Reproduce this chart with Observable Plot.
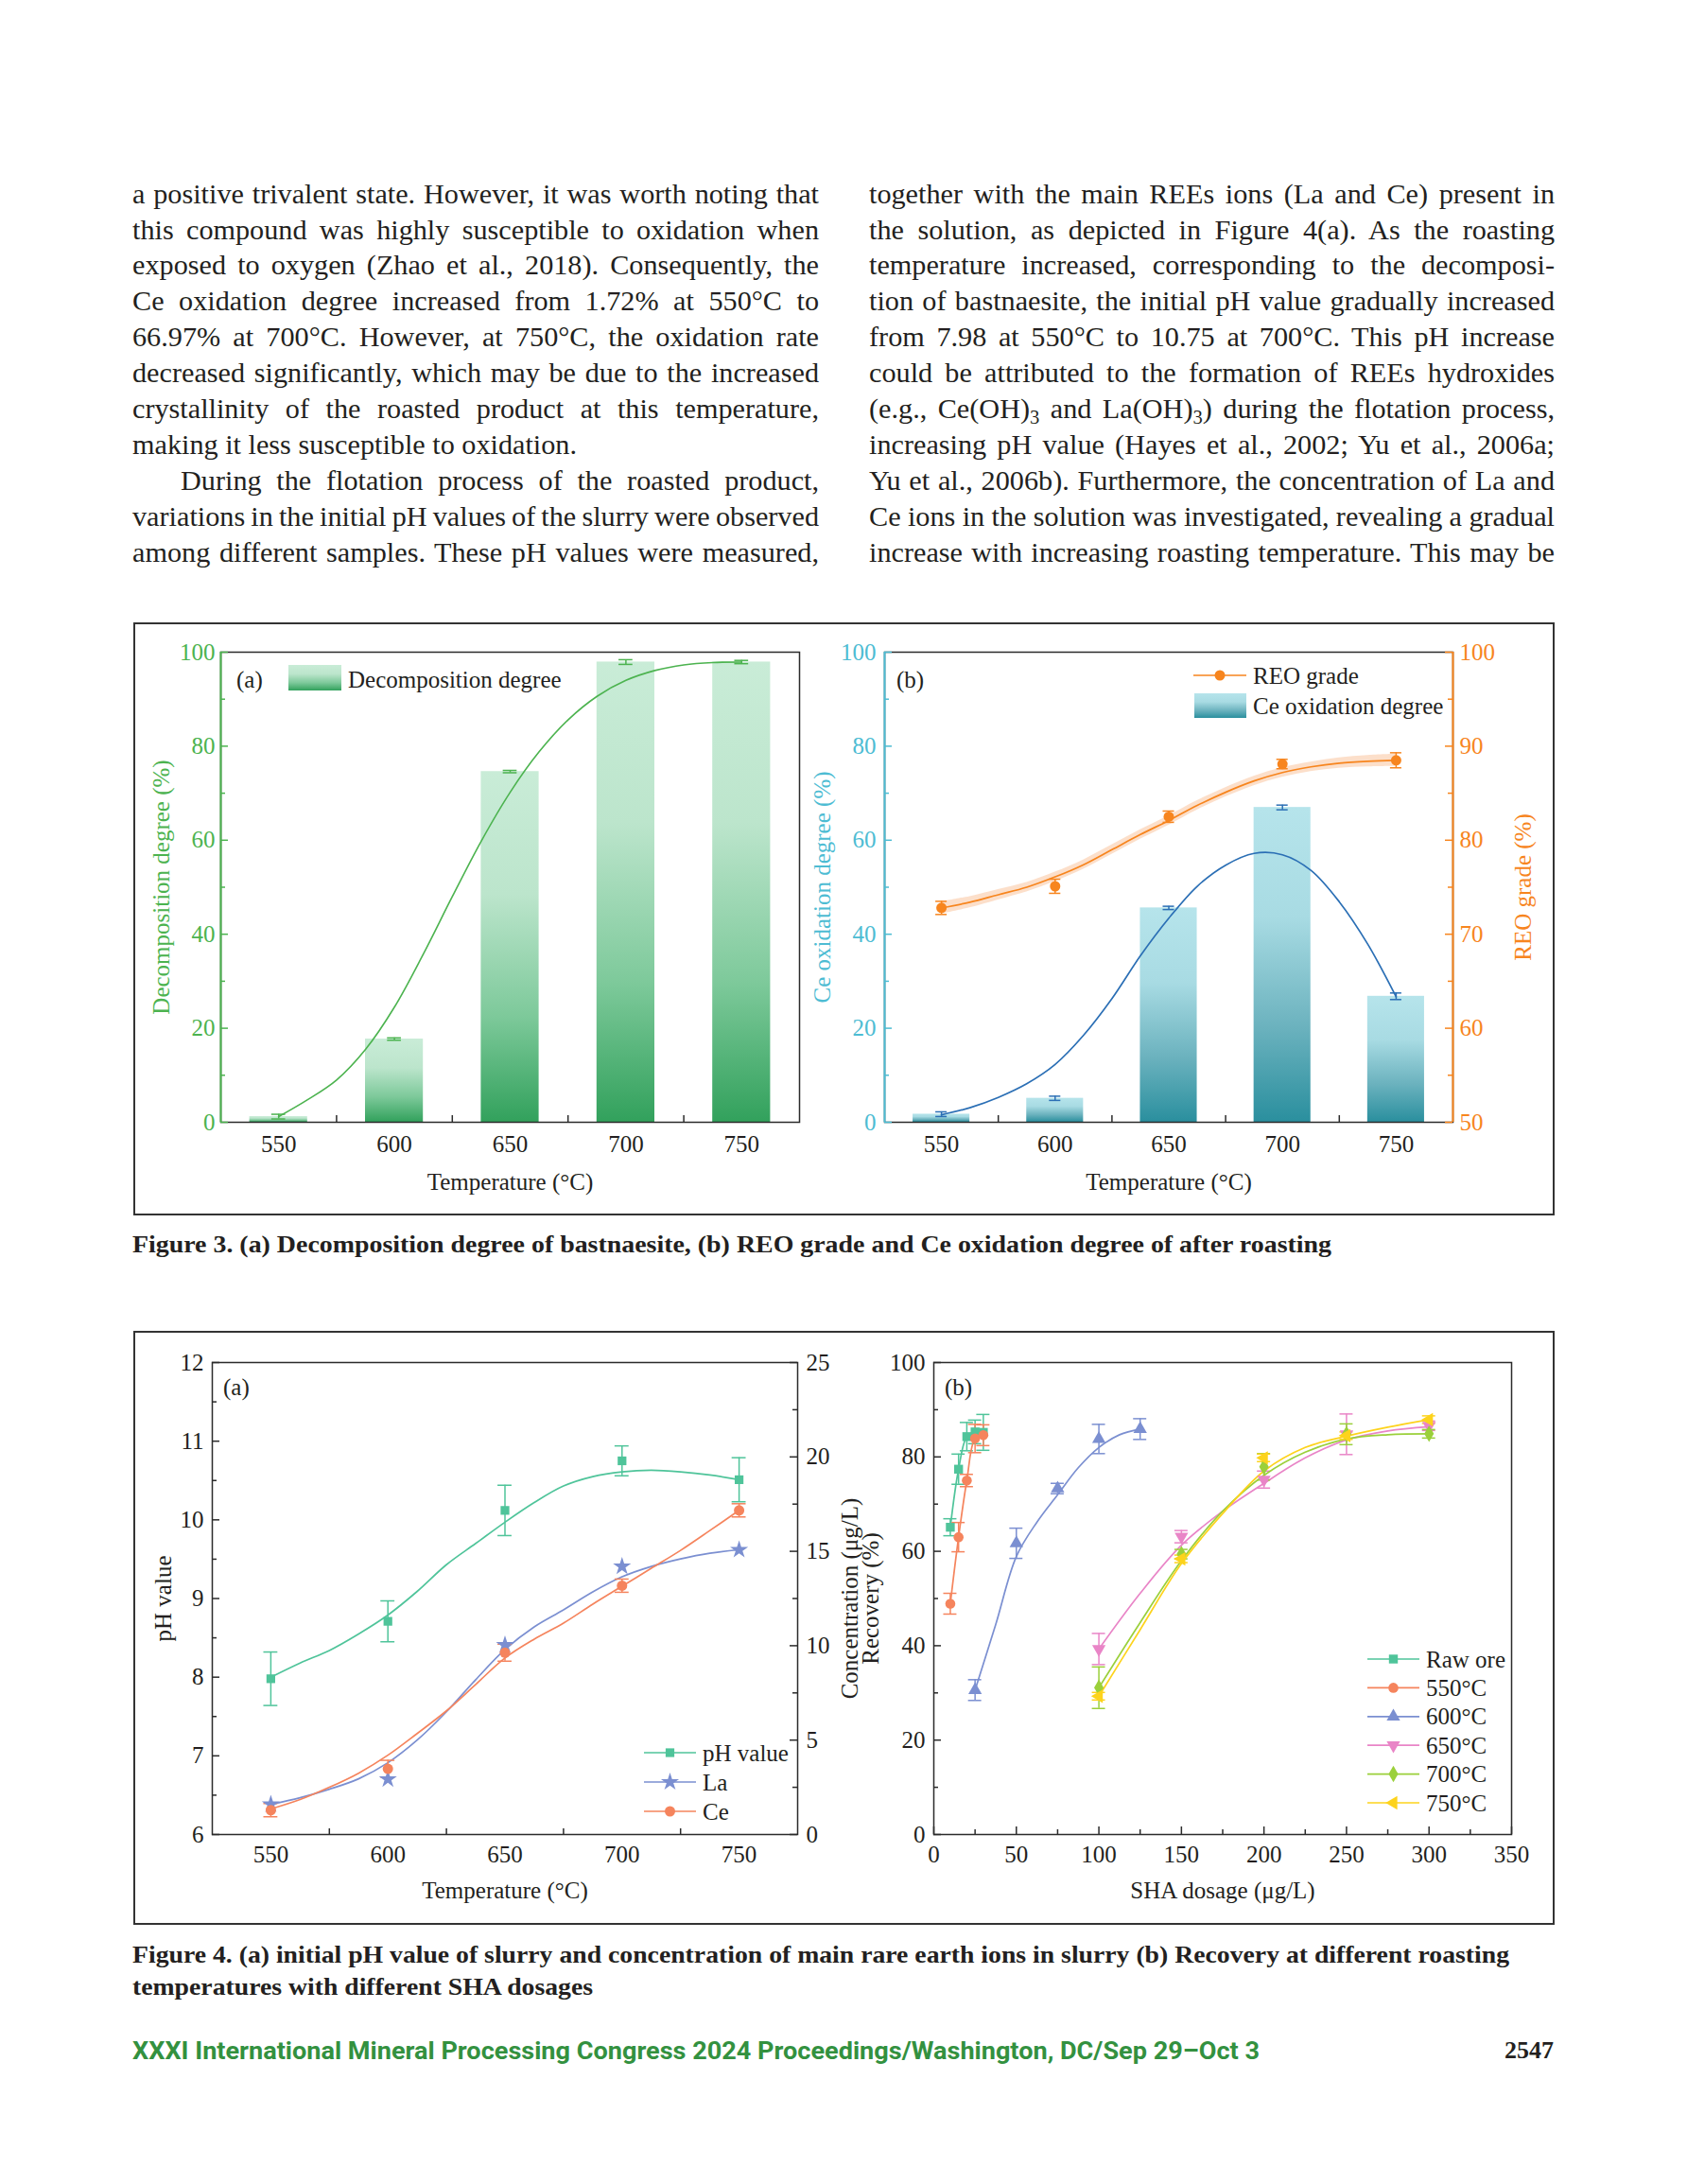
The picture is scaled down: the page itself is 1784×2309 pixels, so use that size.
<!DOCTYPE html>
<html>
<head>
<meta charset="utf-8">
<script src="https://cdn.jsdelivr.net/npm/d3@7"></script>
<script src="https://cdn.jsdelivr.net/npm/@observablehq/plot@0.6"></script>
<style>
  html, body { margin: 0; padding: 0; background: #fff; }
  #page { position: relative; width: 1784px; height: 2309px; overflow: hidden; background: #fff; color: #231f20;
          font-family: "Liberation Serif", "Times New Roman", serif; }
  .ln { position: absolute; white-space: pre; }
  .sub { font-size: 0.68em; vertical-align: -0.28em; line-height: 0; }
  .box { position: absolute; border: 2px solid #333; box-sizing: border-box; }
  .panel { position: absolute; }
  .panel svg { overflow: visible; display: block; max-width: none !important; }
</style>
</head>
<body>
<div id="page"></div>
<script>
// ---------------- DATA ----------------
const temps = [550, 600, 650, 700, 750];
const fitTemps = [550, 562.5, 575, 587.5, 600, 612.5, 625, 637.5, 650, 662.5, 675, 687.5, 700, 712.5, 725, 737.5, 750];

// Figure 3(a): decomposition degree (%)
const decompDegree = [1.2, 17.7, 74.6, 97.9, 97.9];
const decompErr = [0.5, 0.25, 0.25, 0.5, 0.35];
const decompFit = [1.2, 4.8, 9.0, 15.5, 24.5, 35.8, 48.0, 59.8, 70.2, 78.8, 85.6, 90.6, 94.0, 96.1, 97.3, 97.8, 97.9];

// Figure 3(b): Ce oxidation degree (%) and REO grade (%)
const ceOxidation = [1.72, 5.1, 45.6, 66.97, 26.8];
const ceOxErr = [0.5, 0.45, 0.35, 0.5, 0.7];
const ceOxFit = [1.6, 3.1, 5.3, 8.2, 12.3, 18.5, 26.3, 35.4, 43.4, 50.2, 54.7, 57.2, 56.9, 53.6, 46.9, 37.9, 26.7];
const reoGrade = [72.8, 75.1, 82.5, 88.1, 88.5];
const reoErr = [0.7, 0.75, 0.6, 0.5, 0.8];
const reoFit = [72.8, 73.4, 74.2, 75.0, 76.1, 77.4, 79.0, 80.6, 82.1, 83.7, 85.1, 86.3, 87.2, 87.8, 88.2, 88.4, 88.5];
const reoBand = [0.65, 0.6, 0.55, 0.5, 0.5, 0.5, 0.5, 0.5, 0.5, 0.5, 0.5, 0.5, 0.5, 0.5, 0.55, 0.6, 0.65];

// Figure 4(a): pH value and concentration (μg/L)
const pHValue = [7.98, 8.71, 10.12, 10.75, 10.51];
const pHErr = [0.34, 0.26, 0.32, 0.19, 0.28];
const pHFit = [8.0, 8.18, 8.34, 8.55, 8.79, 9.09, 9.43, 9.70, 9.97, 10.22, 10.43, 10.55, 10.61, 10.63, 10.61, 10.57, 10.51];
const laConc = [1.6, 2.93, 10.04, 14.2, 15.08];
const laFit = [1.6, 1.95, 2.4, 2.95, 3.8, 5.0, 6.5, 8.2, 9.8, 11.0, 11.9, 12.85, 13.65, 14.2, 14.6, 14.9, 15.08];
const ceConc = [1.29, 3.48, 9.63, 13.18, 17.17];
const ceConcErr = [0.35, 0.45, 0.45, 0.35, 0.35];
const ceFit = [1.35, 1.85, 2.5, 3.25, 4.2, 5.35, 6.55, 7.95, 9.35, 10.35, 11.2, 12.2, 13.15, 14.1, 15.05, 16.1, 17.17];

// Figure 4(b): recovery (%) vs SHA dosage (μg/L)
const seriesNames = ["Raw ore", "550°C", "600°C", "650°C", "700°C", "750°C"];
const rawDose = [10, 15, 20, 25, 30];
const rawRec = [65.1, 77.4, 84.3, 85.3, 85.2];
const rawErr = [1.8, 3.2, 3.0, 2.5, 3.8];
const r550Dose = [10, 15, 20, 25, 30];
const r550Rec = [48.9, 63.0, 75.0, 83.9, 84.6];
const r550Err = [2.2, 3.1, 1.3, 3.0, 2.2];
const r600Dose = [25, 50, 75, 100, 125];
const r600Rec = [30.6, 61.7, 73.3, 83.8, 85.9];
const r600Err = [2.2, 3.2, 1.1, 3.1, 2.2];
const hiDose = [100, 150, 200, 250, 300];
const r650Rec = [39.3, 63.1, 75.2, 84.8, 86.6];
const r650Err = [3.3, 1.3, 1.8, 4.3, 1.0];
const r700Rec = [31.1, 59.4, 77.9, 84.8, 84.9];
const r700Err = [4.4, 1.0, 2.8, 2.2, 0.9];
const r750Rec = [29.3, 58.4, 79.8, 84.5, 87.9];
const r750Err = [0.8, 0.8, 0.8, 0.8, 0.8];
// fitted curves
const fit600Dose = [25, 37.5, 50, 62.5, 75, 87.5, 100, 112.5, 125];
const fit600 = [30.6, 44.5, 58.9, 66.2, 72.0, 77.7, 82.0, 84.7, 85.9];
const fitHiDose = [100, 125, 150, 175, 200, 225, 250, 275, 300];
const fit650 = [39.3, 51.1, 61.3, 68.5, 74.4, 79.8, 83.6, 85.5, 86.4];
const fit700 = [31.1, 44.9, 58.0, 68.5, 76.1, 81.0, 83.8, 84.7, 84.9];
const fit750 = [29.3, 43.4, 57.4, 68.0, 77.0, 82.0, 84.4, 86.3, 87.9];

// Tick labels
const tempTicks = temps;
const pctTicks = [0, 20, 40, 60, 80, 100];
const reoTicks = [50, 60, 70, 80, 90, 100];
const pHTicks = [6, 7, 8, 9, 10, 11, 12];
const concTicks = [0, 5, 10, 15, 20, 25];
const doseTicks = [0, 50, 100, 150, 200, 250, 300, 350];

// Text
const leftLines = [
  "a positive trivalent state. However, it was worth noting that",
  "this compound was highly susceptible to oxidation when",
  "exposed to oxygen (Zhao et al., 2018). Consequently, the",
  "Ce oxidation degree increased from 1.72% at 550°C to",
  "66.97% at 700°C. However, at 750°C, the oxidation rate",
  "decreased significantly, which may be due to the increased",
  "crystallinity of the roasted product at this temperature,",
  "making it less susceptible to oxidation.",
  "During the flotation process of the roasted product,",
  "variations in the initial pH values of the slurry were observed",
  "among different samples. These pH values were measured,"
];
const rightLines = [
  "together with the main REEs ions (La and Ce) present in",
  "the solution, as depicted in Figure 4(a). As the roasting",
  "temperature increased, corresponding to the decomposi-",
  "tion of bastnaesite, the initial pH value gradually increased",
  "from 7.98 at 550°C to 10.75 at 700°C. This pH increase",
  "could be attributed to the formation of REEs hydroxides",
  "(e.g., Ce(OH)<span class=\"sub\">3</span> and La(OH)<span class=\"sub\">3</span>) during the flotation process,",
  "increasing pH value (Hayes et al., 2002; Yu et al., 2006a;",
  "Yu et al., 2006b). Furthermore, the concentration of La and",
  "Ce ions in the solution was investigated, revealing a gradual",
  "increase with increasing roasting temperature. This may be"
];
const caption3 = "Figure 3. (a) Decomposition degree of bastnaesite, (b) REO grade and Ce oxidation degree of after roasting";
const caption4 = ["Figure 4. (a) initial pH value of slurry and concentration of main rare earth ions in slurry (b) Recovery at different roasting",
                  "temperatures with different SHA dosages"];
const footer = "XXXI International Mineral Processing Congress 2024 Proceedings/Washington, DC/Sep 29–Oct 3";
const pageNo = "2547";

// ---------------- STYLE ----------------
const serif = '"Liberation Serif", "Times New Roman", serif';
const ink = "#231f20";
const dark = "#2b2b2b";
const cGreen3 = "#4cb34f";
const cTeal = "#4dbcd3";
const cOrange = "#f7851e";
const cBlue = "#2b6fb5";
const cPH = "#4fc49a";
const cLa = "#7b8fd1";
const cCe = "#f5845d";
const c4b = ["#4fc49a", "#f5845d", "#7b8fd1", "#e985c7", "#9bd03b", "#fdd31c"];

const page = document.getElementById("page");
const NS = "http://www.w3.org/2000/svg";
function sel(tag, attrs, parent) {
  const e = document.createElementNS(NS, tag);
  for (const k in attrs) e.setAttribute(k, attrs[k]);
  if (parent) parent.appendChild(e);
  return e;
}

// custom symbols
const triDown = {draw(ctx, size) {
  const s3 = Math.sqrt(3), y = -Math.sqrt(size / (s3 * 3));
  ctx.moveTo(0, -y * 2); ctx.lineTo(-s3 * y, y); ctx.lineTo(s3 * y, y); ctx.closePath();
}};
const triLeft = {draw(ctx, size) {
  const s3 = Math.sqrt(3), y = -Math.sqrt(size / (s3 * 3));
  ctx.moveTo(y * 2, 0); ctx.lineTo(-y, -s3 * y); ctx.lineTo(-y, s3 * y); ctx.closePath();
}};
const symbols4b = ["square", "circle", "triangle", triDown, "diamond", triLeft];
const d3Symbols = {square: d3.symbolSquare, circle: d3.symbolCircle, triangle: d3.symbolTriangle, diamond: d3.symbolDiamond, star: d3.symbolStar};

// ---------------- BOXES ----------------
function box(l, t, r, b) {
  const d = document.createElement("div");
  d.className = "box";
  d.style.cssText = `left:${l}px;top:${t}px;width:${r - l}px;height:${b - t}px;`;
  page.appendChild(d);
}
box(141, 658, 1644, 1285);
box(141, 1407, 1644, 2035);

// ---------------- TEXT ----------------
function placeLine(html, {left, baseline, size = 26, weight = 400, family = serif, color = ink, target = null, mode = "justify", right = null}) {
  const d = document.createElement("div");
  d.className = "ln";
  d.style.cssText = `left:${left}px;top:${baseline - 0.8375 * size}px;font-size:${size}px;line-height:${size}px;font-weight:${weight};font-family:${family};color:${color};`;
  d.innerHTML = html;
  page.appendChild(d);
  const w = d.getBoundingClientRect().width;
  if (right != null) d.style.left = (right - w) + "px";
  if (target) {
    if (mode === "justify") {
      const n = (d.textContent.match(/ /g) || []).length;
      if (n) d.style.wordSpacing = ((target - w) / n) + "px";
    } else if (mode === "scale") {
      d.style.transformOrigin = "0 0";
      d.style.transform = `scaleX(${target / w})`;
    }
  }
  return d;
}

// body text: find a font size that fits the column, then justify each line
const base0 = 215, pitch = 37.9;
const bodySpecs = [];
leftLines.forEach((s, i) => {
  const indent = i === 8 ? 51 : 0;
  bodySpecs.push({s, left: 140 + indent, baseline: base0 + i * pitch, target: i === 7 ? null : 726 - indent});
});
rightLines.forEach((s, i) => bodySpecs.push({s, left: 919, baseline: base0 + i * pitch, target: 725}));
{
  const probe = bodySpecs.map(b => placeLine(b.s, {left: b.left, baseline: b.baseline, size: 26}));
  const ratios = bodySpecs.map((b, i) => b.target ? b.target / probe[i].getBoundingClientRect().width : null).filter(r => r).sort(d3.ascending);
  probe.forEach(d => d.remove());
  const fs = Math.min(31, 26 * d3.quantile(ratios, 0.15) * 0.985);
  bodySpecs.forEach(b => placeLine(b.s, {left: b.left, baseline: b.baseline, size: fs, target: b.target}));
}
placeLine(caption3, {left: 140, baseline: 1324, size: 25, weight: 700, target: 1268, mode: "scale"});
const c4 = placeLine(caption4[0], {left: 140, baseline: 2075, size: 25, weight: 700, target: 1456, mode: "scale"});
const c4b2 = placeLine(caption4[1], {left: 140, baseline: 2109, size: 25, weight: 700});
c4b2.style.transformOrigin = "0 0"; c4b2.style.transform = c4.style.transform;
placeLine(footer, {left: 140, baseline: 2177, size: 25, weight: 700, family: "Roboto, 'Liberation Sans', sans-serif", color: "#33913f", target: 1192, mode: "scale"});
placeLine(pageNo, {left: 1500, right: 1643, baseline: 2177, size: 26, weight: 700});

// ---------------- OVERLAY (defs + legends) ----------------
const ov = sel("svg", {width: 1784, height: 2309, style: "position:absolute;left:0;top:0;pointer-events:none;overflow:visible"});
const defs = sel("defs", {}, ov);
function grad(id, stops) {
  const g = sel("linearGradient", {id, x1: 0, y1: 0, x2: 0, y2: 1}, defs);
  for (const [o, c] of stops) sel("stop", {offset: o, "stop-color": c}, g);
}
grad("gradGreen", [[0, "#c9ecd7"], [0.35, "#bce5cc"], [0.7, "#7dc99a"], [1, "#32a15c"]]);
grad("gradTeal", [[0, "#b6e4eb"], [0.35, "#a8dbe3"], [0.7, "#6bb2be"], [1, "#2a8f9e"]]);

function mount(svg, left, top) {
  const div = document.createElement("div");
  div.className = "panel";
  div.style.left = left + "px";
  div.style.top = top + "px";
  svg.style.background = "transparent";
  div.appendChild(svg);
  page.appendChild(div);
}

const baseStyle = {background: "transparent", overflow: "visible", fontFamily: serif, fontSize: "25px", color: ink};

function errorMarks(rows, {x, y, e, cap, stroke, strokeWidth = 1.5, map = v => v}) {
  return [
    Plot.ruleX(rows, {x, y1: d => map(d[y] - d[e]), y2: d => map(d[y] + d[e]), stroke, strokeWidth}),
    Plot.ruleY(rows, {y: d => map(d[y] + d[e]), x1: d => d[x] - cap, x2: d => d[x] + cap, stroke, strokeWidth}),
    Plot.ruleY(rows, {y: d => map(d[y] - d[e]), x1: d => d[x] - cap, x2: d => d[x] + cap, stroke, strokeWidth})
  ];
}
const ticksLeft = (vals, len, fw, stroke) => Plot.tickY(vals, {y: d => d, insetRight: fw - len, stroke, strokeWidth: 1.5});
const ticksRight = (vals, len, fw, stroke) => Plot.tickY(vals, {y: d => d, insetLeft: fw - len, stroke, strokeWidth: 1.5});
const ticksBottom = (vals, len, fh, stroke) => Plot.tickX(vals, {x: d => d, insetTop: fh - len, stroke, strokeWidth: 1.5});
const halfSteps = a => a.slice(1).map((t, i) => (t + a[i]) / 2);
const mids = halfSteps(temps);

// ---------------- FIGURE 3(a) ----------------
{
  const W = 744, H = 623, ml = 91, mr = 41, mt = 29, mb = 97;
  const fw = W - ml - mr, fh = H - mt - mb;
  const rows = temps.map((t, i) => ({t, v: decompDegree[i], e: decompErr[i]}));
  const fit = fitTemps.map((t, i) => ({t, v: decompFit[i]}));
  const p = Plot.plot({
    width: W, height: H, marginLeft: ml, marginRight: mr, marginTop: mt, marginBottom: mb,
    style: baseStyle,
    x: {domain: [525, 775]}, y: {domain: [0, 100]},
    marks: [
      Plot.rect(rows, {x1: d => d.t - 12.5, x2: d => d.t + 12.5, y1: () => 0, y2: "v", fill: "url(#gradGreen)"}),
      ...errorMarks(rows, {x: "t", y: "v", e: "e", cap: 3, stroke: cGreen3}),
      Plot.line(fit, {x: "t", y: "v", curve: "catmull-rom", stroke: cGreen3, strokeWidth: 1.6}),
      Plot.frame({stroke: dark, strokeWidth: 1.5}),
      Plot.ruleX([525], {stroke: cGreen3, strokeWidth: 2}),
      ticksLeft(pctTicks, 8, fw, cGreen3),
      ticksLeft(halfSteps(pctTicks), 5, fw, cGreen3),
      ticksBottom(mids, 7, fh, dark),
      Plot.axisY(pctTicks, {anchor: "left", tickSize: 0, tickPadding: 6, color: cGreen3, fill: cGreen3,
        label: "Decomposition degree (%)", labelAnchor: "center", labelOffset: 72, labelArrow: "none"}),
      Plot.axisX(tempTicks, {anchor: "bottom", tickSize: 0, tickPadding: 14,
        label: "Temperature (°C)", labelAnchor: "center", labelOffset: 71, labelArrow: "none"})
    ]
  });
  mount(p, 142, 660);
}

// ---------------- FIGURE 3(b) ----------------
{
  const W = 799, H = 623, ml = 93, mr = 105, mt = 29, mb = 97;
  const fw = W - ml - mr, fh = H - mt - mb;
  const toLeft = v => (v - 50) * 2;
  const ceRows = temps.map((t, i) => ({t, v: ceOxidation[i], e: ceOxErr[i]}));
  const ceFitRows = fitTemps.map((t, i) => ({t, v: ceOxFit[i]}));
  const reoRows = temps.map((t, i) => ({t, v: reoGrade[i], e: reoErr[i]}));
  const reoFitRows = fitTemps.map((t, i) => ({t, v: reoFit[i], b: reoBand[i]}));
  const p = Plot.plot({
    width: W, height: H, marginLeft: ml, marginRight: mr, marginTop: mt, marginBottom: mb,
    style: baseStyle,
    x: {domain: [525, 775]}, y: {domain: [0, 100]},
    marks: [
      Plot.rect(ceRows, {x1: d => d.t - 12.5, x2: d => d.t + 12.5, y1: () => 0, y2: "v", fill: "url(#gradTeal)"}),
      ...errorMarks(ceRows, {x: "t", y: "v", e: "e", cap: 2.5, stroke: cBlue}),
      Plot.line(ceFitRows, {x: "t", y: "v", curve: "catmull-rom", stroke: cBlue, strokeWidth: 1.7}),
      Plot.areaY(reoFitRows, {x: "t", y1: d => toLeft(d.v - d.b), y2: d => toLeft(d.v + d.b), curve: "catmull-rom", fill: "#f9b98a", fillOpacity: 0.45}),
      Plot.line(reoFitRows, {x: "t", y: d => toLeft(d.v), curve: "catmull-rom", stroke: cOrange, strokeWidth: 1.7}),
      ...errorMarks(reoRows, {x: "t", y: "v", e: "e", cap: 2.5, stroke: cOrange, map: toLeft}),
      Plot.dot(reoRows, {x: "t", y: d => toLeft(d.v), r: 5.5, fill: cOrange, symbol: "circle"}),
      Plot.frame({stroke: dark, strokeWidth: 1.5}),
      Plot.ruleX([525], {stroke: cTeal, strokeWidth: 2}),
      Plot.ruleX([775], {stroke: cOrange, strokeWidth: 2}),
      ticksLeft(pctTicks, 8, fw, cTeal),
      ticksLeft(halfSteps(pctTicks), 5, fw, cTeal),
      ticksRight(reoTicks.map(toLeft), 8, fw, cOrange),
      ticksRight(halfSteps(reoTicks).map(toLeft), 5, fw, cOrange),
      ticksBottom(mids, 7, fh, dark),
      Plot.axisY(pctTicks, {anchor: "left", tickSize: 0, tickPadding: 9, color: cTeal, fill: cTeal,
        label: "Ce oxidation degree (%)", labelAnchor: "center", labelOffset: 75, labelArrow: "none"}),
      Plot.axisY(reoTicks.map(toLeft), {anchor: "right", tickSize: 0, tickPadding: 7, color: cOrange, fill: cOrange,
        tickFormat: d => String(50 + d / 2),
        label: "REO grade (%)", labelAnchor: "center", labelOffset: 82, labelArrow: "none"}),
      Plot.axisX(tempTicks, {anchor: "bottom", tickSize: 0, tickPadding: 14,
        label: "Temperature (°C)", labelAnchor: "center", labelOffset: 71, labelArrow: "none"})
    ]
  });
  mount(p, 842, 660);
}

// ---------------- FIGURE 4(a) ----------------
{
  const W = 775, H = 624, ml = 82, mr = 74, mt = 31, mb = 94;
  const fw = W - ml - mr, fh = H - mt - mb;
  const conc = c => 6 + c * 6 / 25;
  const pHRows = temps.map((t, i) => ({t, v: pHValue[i], e: pHErr[i]}));
  const laRows = temps.map((t, i) => ({t, v: laConc[i]}));
  const ceRows = temps.map((t, i) => ({t, v: ceConc[i], e: ceConcErr[i]}));
  const pHFitRows = fitTemps.map((t, i) => ({t, v: pHFit[i]}));
  const laFitRows = fitTemps.map((t, i) => ({t, v: laFit[i]}));
  const ceFitRows = fitTemps.map((t, i) => ({t, v: ceFit[i]}));
  const p = Plot.plot({
    width: W, height: H, marginLeft: ml, marginRight: mr, marginTop: mt, marginBottom: mb,
    style: baseStyle,
    x: {domain: [525, 775]}, y: {domain: [6, 12]},
    marks: [
      Plot.line(pHFitRows, {x: "t", y: "v", curve: "catmull-rom", stroke: cPH, strokeWidth: 1.7}),
      Plot.line(laFitRows, {x: "t", y: d => conc(d.v), curve: "catmull-rom", stroke: cLa, strokeWidth: 1.7}),
      Plot.line(ceFitRows, {x: "t", y: d => conc(d.v), curve: "catmull-rom", stroke: cCe, strokeWidth: 1.7}),
      ...errorMarks(pHRows, {x: "t", y: "v", e: "e", cap: 3, stroke: cPH}),
      ...errorMarks(ceRows, {x: "t", y: "v", e: "e", cap: 3, stroke: cCe, map: conc}),
      Plot.dot(pHRows, {x: "t", y: "v", symbol: "square", r: 5.2, fill: cPH}),
      Plot.dot(laRows, {x: "t", y: d => conc(d.v), symbol: "star", r: 6, fill: cLa}),
      Plot.dot(ceRows, {x: "t", y: d => conc(d.v), symbol: "circle", r: 5.5, fill: cCe}),
      Plot.frame({stroke: dark, strokeWidth: 1.5}),
      ticksLeft(pHTicks, 8, fw, dark),
      ticksLeft(halfSteps(pHTicks), 5, fw, dark),
      ticksRight(concTicks.map(conc), 8, fw, dark),
      ticksRight(halfSteps(concTicks).map(conc), 5, fw, dark),
      ticksBottom(mids, 6, fh, dark),
      Plot.axisY(pHTicks, {anchor: "left", tickSize: 0, tickPadding: 9, tickFormat: d => String(d),
        label: "pH value", labelAnchor: "center", labelOffset: 61, labelArrow: "none"}),
      Plot.axisY(concTicks.map(conc), {anchor: "right", tickSize: 0, tickPadding: 9,
        tickFormat: d => String(Math.round((d - 6) * 25 / 6)),
        label: "Concentration (μg/L)", labelAnchor: "center", labelOffset: 63, labelArrow: "none"}),
      Plot.axisX(tempTicks, {anchor: "bottom", tickSize: 0, tickPadding: 12,
        label: "Temperature (°C)", labelAnchor: "center", labelOffset: 67, labelArrow: "none"})
    ]
  });
  mount(p, 142, 1409);
}

// ---------------- FIGURE 4(b) ----------------
{
  const W = 741, H = 624, ml = 87, mr = 43, mt = 31, mb = 94;
  const fw = W - ml - mr, fh = H - mt - mb;
  const sets = [
    [rawDose, rawRec, rawErr, rawDose, rawRec], [r550Dose, r550Rec, r550Err, r550Dose, r550Rec],
    [r600Dose, r600Rec, r600Err, fit600Dose, fit600],
    [hiDose, r650Rec, r650Err, fitHiDose, fit650], [hiDose, r700Rec, r700Err, fitHiDose, fit700],
    [hiDose, r750Rec, r750Err, fitHiDose, fit750]
  ];
  const marks = [];
  sets.forEach(([xs, ys, es, fx, fy], k) => {
    const rows = xs.map((x, i) => ({x, v: ys[i], e: es[i]}));
    const fitRows = fx.map((x, i) => ({x, v: fy[i]}));
    marks.push(Plot.line(fitRows, {x: "x", y: "v", curve: "catmull-rom", stroke: c4b[k], strokeWidth: 1.7}));
    marks.push(...errorMarks(rows, {x: "x", y: "v", e: "e", cap: 4, stroke: c4b[k]}));
  });
  sets.forEach(([xs, ys], k) => {
    const rows = xs.map((x, i) => ({x, v: ys[i]}));
    marks.push(Plot.dot(rows, {x: "x", y: "v", symbol: symbols4b[k], r: 5.3, fill: c4b[k]}));
  });
  const p = Plot.plot({
    width: W, height: H, marginLeft: ml, marginRight: mr, marginTop: mt, marginBottom: mb,
    style: baseStyle,
    x: {domain: [0, 350]}, y: {domain: [0, 100]},
    marks: [
      ...marks,
      Plot.frame({stroke: dark, strokeWidth: 1.5}),
      ticksLeft(pctTicks, 8, fw, dark),
      ticksLeft(halfSteps(pctTicks), 5, fw, dark),
      ticksBottom(doseTicks, 8, fh, dark),
      ticksBottom(halfSteps(doseTicks), 5, fh, dark),
      Plot.axisY(pctTicks, {anchor: "left", tickSize: 0, tickPadding: 9,
        label: "Recovery (%)", labelAnchor: "center", labelOffset: 76, labelArrow: "none"}),
      Plot.axisX(doseTicks, {anchor: "bottom", tickSize: 0, tickPadding: 12,
        label: "SHA dosage (μg/L)", labelAnchor: "center", labelOffset: 67, labelArrow: "none"})
    ]
  });
  mount(p, 900, 1409);
}

// ---------------- LEGENDS & PANEL LETTERS ----------------
page.appendChild(ov);
function otext(s, x, y, fill = ink, size = 25) {
  const t = sel("text", {x, y, "font-family": serif, "font-size": size, fill}, ov);
  t.textContent = s;
}
function legendItem(x1, x2, y, color, symbol, r, label) {
  sel("line", {x1, x2, y1: y, y2: y, stroke: color, "stroke-width": 1.7}, ov);
  const type = typeof symbol === "string" ? d3Symbols[symbol] : symbol;
  const path = d3.symbol(type, Math.PI * r * r)();
  sel("path", {d: path, fill: color, transform: `translate(${(x1 + x2) / 2},${y})`}, ov);
  otext(label, x2 + 7, y + 8.5);
}
// 3(a)
otext("(a)", 250, 727);
sel("rect", {x: 305, y: 703, width: 56, height: 27, fill: "url(#gradGreen)"}, ov);
otext("Decomposition degree", 368, 727);
// 3(b)
otext("(b)", 948, 727);
legendItem(1262, 1318, 714, cOrange, "circle", 5.5, "REO grade");
sel("rect", {x: 1263, y: 733, width: 55, height: 26, fill: "url(#gradTeal)"}, ov);
otext("Ce oxidation degree", 1325, 755);
// 4(a)
otext("(a)", 236, 1475);
legendItem(681, 736, 1853, cPH, "square", 5.2, "pH value");
legendItem(681, 736, 1884, cLa, "star", 6, "La");
legendItem(681, 736, 1915, cCe, "circle", 5.5, "Ce");
// 4(b)
otext("(b)", 999, 1475);
seriesNames.forEach((n, k) => legendItem(1446, 1501, 1754 + 30.4 * k, c4b[k], symbols4b[k], 5.3, n));
</script>
</body>
</html>
